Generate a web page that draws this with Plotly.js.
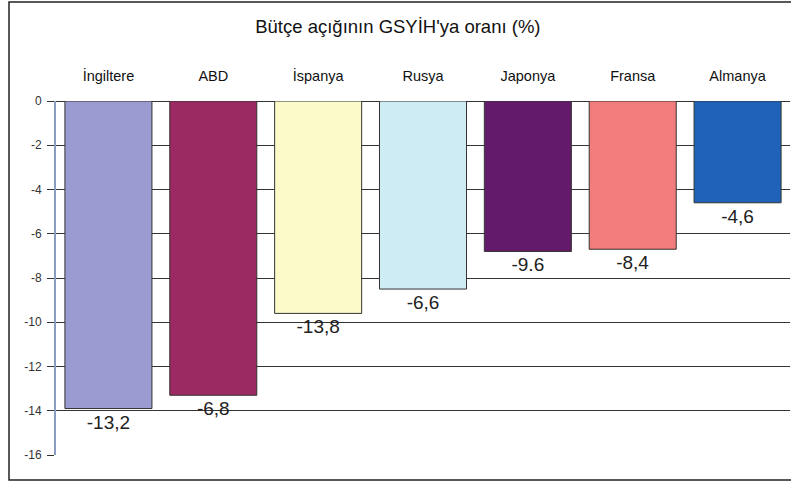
<!DOCTYPE html>
<html>
<head>
<meta charset="utf-8">
<script src="https://cdn.plot.ly/plotly-3.0.1.min.js"></script>
<style>
html,body{margin:0;padding:0;background:#fff;}
#chart{width:791px;height:482px;}
</style>
</head>
<body>
<div id="chart"></div>
<script>
const categories = ["İngiltere", "ABD", "İspanya", "Rusya", "Japonya", "Fransa", "Almanya"];
const values = [-13.9, -13.3, -9.6, -8.5, -6.8, -6.7, -4.6];
const labels = ["-13,2", "-6,8", "-13,8", "-6,6", "-9.6", "-8,4", "-4,6"];
const colors = ["#9a9bd0", "#9c2a62", "#fbfac8", "#cdecf3", "#641a6a", "#f27b7b", "#1f62b9"];
const tickVals = [0, -2, -4, -6, -8, -10, -12, -14, -16];

const W = 791, H = 482;
const m = {l: 56, r: 1, t: 101, b: 27};
const pw = W - m.l - m.r, ph = H - m.t - m.b;

const trace = {
  type: "bar",
  x: categories,
  y: values,
  text: labels,
  textposition: "outside",
  cliponaxis: false,
  textfont: {family: "Liberation Sans, Arial, sans-serif", size: 19, color: "#222"},
  marker: {color: colors, line: {color: "#333", width: 1}},
  hoverinfo: "none"
};

const layout = {
  width: W, height: H,
  margin: m,
  paper_bgcolor: "#fff",
  plot_bgcolor: "#fff",
  showlegend: false,
  bargap: 0.17,
  title: {
    text: "Bütçe açığının GSYİH'ya oranı (%)",
    font: {family: "Liberation Sans, Arial, sans-serif", size: 18.5, color: "#111"},
    x: 0.503, xanchor: "center", y: 1 - 27/H, yanchor: "middle"
  },
  xaxis: {
    side: "top",
    type: "category",
    showgrid: false,
    showline: false,
    zeroline: false,
    ticks: "",
    ticklabelstandoff: 16,
    tickfont: {family: "Liberation Sans, Arial, sans-serif", size: 14.5, color: "#111"}
  },
  yaxis: {
    range: [-16, 0],
    tickvals: tickVals,
    ticktext: tickVals.map(v => String(v)),
    showgrid: true,
    gridcolor: "#333",
    gridwidth: 1,
    zeroline: true,
    zerolinecolor: "#333",
    zerolinewidth: 1,
    showline: true,
    linecolor: "#8a9cc0",
    linewidth: 2,
    ticks: "outside",
    ticklen: 7,
    tickcolor: "#333",
    ticklabelstandoff: 3,
    tickfont: {family: "Liberation Sans, Arial, sans-serif", size: 12, color: "#333"}
  },
  shapes: [{
    type: "rect", xref: "paper", yref: "paper", layer: "above",
    x0: (9 - m.l) / pw, x1: (795 - m.l) / pw,
    y0: (H - m.b - 480) / ph, y1: (H - m.b - 2) / ph,
    line: {color: "#222", width: 1.5}, fillcolor: "rgba(0,0,0,0)"
  }]
};

Plotly.newPlot("chart", [trace], layout, {displayModeBar: false, staticPlot: true});
</script>
</body>
</html>
